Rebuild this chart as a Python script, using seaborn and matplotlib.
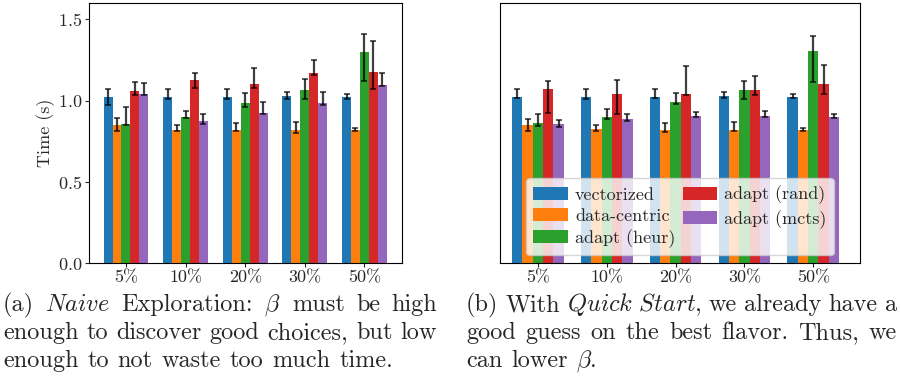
import numpy as np
import pandas as pd
import seaborn as sns
import matplotlib.pyplot as plt

# info: two bar panels of run time per budget, naive exploration vs quick start

pcts = ["5%", "10%", "20%", "30%", "50%"]
methods = ["vectorized", "data-centric", "adapt (heur)", "adapt (rand)", "adapt (mcts)"]
colors = ["#1f77b4", "#ff7f0e", "#2ca02c", "#d62728", "#9467bd"]

# (a) naive exploration: bar height, lower and upper end of the error bar
naive_vec = [1.02, 1.02, 1.02, 1.03, 1.02]
naive_vec_lo = [0.97, 1.01, 1.01, 1.01, 1.01]
naive_vec_hi = [1.07, 1.07, 1.07, 1.05, 1.04]
naive_dc = [0.85, 0.82, 0.82, 0.82, 0.82]
naive_dc_lo = [0.81, 0.81, 0.81, 0.80, 0.81]
naive_dc_hi = [0.89, 0.85, 0.86, 0.87, 0.83]
naive_heur = [0.855, 0.90, 0.985, 1.065, 1.297]
naive_heur_lo = [0.85, 0.895, 0.96, 1.01, 1.117]
naive_heur_hi = [0.96, 0.937, 1.044, 1.132, 1.412]
naive_rand = [1.058, 1.125, 1.101, 1.168, 1.174]
naive_rand_lo = [1.033, 1.08, 1.076, 1.154, 1.069]
naive_rand_hi = [1.111, 1.172, 1.203, 1.248, 1.369]
naive_mcts = [1.039, 0.874, 0.923, 0.984, 1.094]
naive_mcts_lo = [1.033, 0.855, 0.917, 0.972, 1.09]
naive_mcts_hi = [1.107, 0.917, 0.992, 1.054, 1.168]

# (b) quick start
quick_vec = [1.02, 1.02, 1.02, 1.026, 1.02]
quick_vec_lo = [1.014, 1.01, 1.013, 1.014, 1.014]
quick_vec_hi = [1.071, 1.068, 1.068, 1.055, 1.043]
quick_dc = [0.848, 0.824, 0.818, 0.817, 0.817]
quick_dc_lo = [0.811, 0.811, 0.808, 0.811, 0.811]
quick_dc_hi = [0.889, 0.85, 0.861, 0.868, 0.832]
quick_heur = [0.86, 0.897, 0.99, 1.063, 1.303]
quick_heur_lo = [0.846, 0.889, 0.978, 1.01, 1.111]
quick_heur_hi = [0.92, 0.947, 1.044, 1.119, 1.396]
quick_rand = [1.069, 1.039, 1.039, 1.063, 1.10]
quick_rand_lo = [0.926, 0.914, 1.033, 1.031, 1.039]
quick_rand_hi = [1.123, 1.129, 1.213, 1.148, 1.217]
quick_mcts = [0.854, 0.885, 0.904, 0.903, 0.897]
quick_mcts_lo = [0.836, 0.871, 0.896, 0.897, 0.891]
quick_mcts_hi = [0.883, 0.92, 0.931, 0.934, 0.918]

naive = [(naive_vec, naive_vec_lo, naive_vec_hi), (naive_dc, naive_dc_lo, naive_dc_hi),
         (naive_heur, naive_heur_lo, naive_heur_hi), (naive_rand, naive_rand_lo, naive_rand_hi),
         (naive_mcts, naive_mcts_lo, naive_mcts_hi)]
quick = [(quick_vec, quick_vec_lo, quick_vec_hi), (quick_dc, quick_dc_lo, quick_dc_hi),
         (quick_heur, quick_heur_lo, quick_heur_hi), (quick_rand, quick_rand_lo, quick_rand_hi),
         (quick_mcts, quick_mcts_lo, quick_mcts_hi)]

# caption lines as word lists, the last line of each is not justified
caption_a = [["(a)", r"$\mathit{Naive}$", "Exploration:", r"$\beta$", "must", "be", "high"],
             ["enough", "to", "discover", "good", "choices,", "but", "low"],
             ["enough", "to", "not", "waste", "too", "much", "time."]]
caption_b = [["(b)", "With", r"$\mathit{Quick\ Start}$,", "we", "already", "have", "a"],
             ["good", "guess", "on", "the", "best", "flavor.", "Thus,", "we"],
             ["can", "lower", r"$\beta$."]]


def to_frame(series):
    rows = []
    for m, (vals, los, his) in zip(methods, series):
        for p, v, lo, hi in zip(pcts, vals, los, his):
            rows.append({"pct": p, "method": m, "time": v, "lo": lo, "hi": hi})
    return pd.DataFrame(rows)


def panel(ax, df, legend):
    sns.barplot(data=df, x="pct", y="time", hue="method", order=pcts, hue_order=methods,
                palette=colors, saturation=1, width=0.75, gap=0, errorbar=None,
                legend=legend, linewidth=0, ax=ax)
    # error bars on the bar centres seaborn picked
    for m, cont in zip(methods, ax.containers):
        sub = df[df["method"] == m].set_index("pct").loc[pcts]
        xs = [b.get_x() + b.get_width() / 2 for b in cont.patches]
        ys = sub["time"].values
        yerr = [ys - sub["lo"].values, sub["hi"].values - ys]
        ax.errorbar(xs, ys, yerr=yerr, fmt="none", ecolor="black", elinewidth=1.6,
                    capsize=2.0, capthick=1.2, alpha=0.75)
    ax.set_ylim(0, 1.6)
    ax.set_xlabel("")
    for s in ax.spines.values():
        s.set_color("black")


def caption(fig, lines, x0, x1, y0, step, size):
    """
    Info: lay out the words of each line like a justified LaTeX paragraph
    Args: x0, x1: left and right edge in pixels; y0: first baseline in pixels
    """
    W, H = fig.bbox.width, fig.bbox.height
    rend = fig.canvas.get_renderer()
    for i, words in enumerate(lines):
        y = 1 - (y0 + step * i) / H
        txts = [fig.text(0, y, w, fontsize=size, va="baseline") for w in words]
        widths = [t.get_window_extent(rend).width for t in txts]
        if i < len(lines) - 1:
            gap = (x1 - x0 - sum(widths)) / (len(words) - 1)
        else:
            gap = 0.5 * size
        x = x0
        for t, w in zip(txts, widths):
            t.set_x(x / W)
            x += w + gap


sns.set_style("white")
plt.rcParams["font.family"] = ["cmr10"]
plt.rcParams["mathtext.fontset"] = "cm"
plt.rcParams["axes.formatter.use_mathtext"] = True
plt.rcParams["axes.unicode_minus"] = False

fig = plt.figure(figsize=(9.01, 3.79), dpi=100)
ax_a = fig.add_axes([89 / 901, 116 / 379, 313 / 901, 260 / 379])
ax_b = fig.add_axes([500 / 901, 116 / 379, 360 / 901, 260 / 379])

panel(ax_a, to_frame(naive), False)
ax_a.set_xlim(-0.62, 4.63)
ax_a.set_yticks([0.0, 0.5, 1.0, 1.5])
ax_a.set_ylabel("Time (s)", fontsize=13, labelpad=2)
ax_a.tick_params(labelsize=13, length=3, pad=2, left=True, bottom=True)

panel(ax_b, to_frame(quick), True)
ax_b.set_xlim(-0.55, 4.68)
ax_b.set_ylabel("")
ax_b.tick_params(labelsize=13, length=3, pad=2, bottom=True, left=False, labelleft=False)
ax_b.legend(ncol=2, loc="lower center", bbox_to_anchor=(0.5, 0.03), borderaxespad=0,
            fontsize=13, framealpha=0.8, edgecolor="#cccccc", handlelength=1.9,
            handleheight=0.75, labelspacing=0.3, columnspacing=0.4, handletextpad=0.4,
            borderpad=0.4)

caption(fig, caption_a, 3, 437, 311, 28, 17.5)
caption(fig, caption_b, 466, 897, 311, 28, 17.5)

fig.savefig("out.png", dpi=100)
